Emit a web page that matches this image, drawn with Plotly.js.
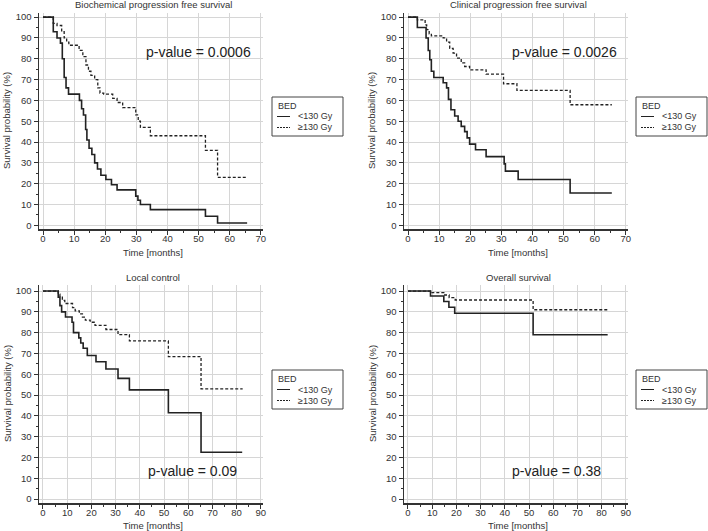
<!DOCTYPE html>
<html><head><meta charset="utf-8">
<script src="https://cdn.plot.ly/plotly-3.0.1.min.js"></script>
<style>html,body{margin:0;padding:0;background:#fff}#chart{width:708px;height:531px}</style>
</head><body><div id="chart"></div>
<script>
// ---- data ----
const panelTitles = ['Biochemical progression free survival', 'Clinical progression free survival', 'Local control', 'Overall survival'];
const pValueTexts = ['p-value = 0.0006', 'p-value = 0.0026', 'p-value = 0.09', 'p-value = 0.38'];
const legendTitle = 'BED';
const groupNames = ['<130 Gy', '≥130 Gy'];
const xAxisTitle = 'Time [months]';
const yAxisTitle = 'Survival probability (%)';
const xTicksTop = [0, 10, 20, 30, 40, 50, 60, 70];
const xTicksBottom = [0, 10, 20, 30, 40, 50, 60, 70, 80, 90];
const yTicks = [0, 10, 20, 30, 40, 50, 60, 70, 80, 90, 100];

// Biochemical PFS
const bpfsLowTime = [0, 3.3, 4.5, 5.6, 6.2, 6.8, 7.4, 8.2, 11.7, 12.4, 13.0, 13.7, 14.1, 14.8, 15.7, 16.6, 17.5, 18.6, 20.2, 22.0, 23.8, 29.8, 30.5, 31.3, 34.5, 52.2, 56.1, 65.6];
const bpfsLowSurv = [100, 93, 90, 87.5, 80, 71, 66, 63, 60, 56, 53, 46, 41, 37, 34, 30, 27, 24, 22, 19.5, 17, 14, 12, 10, 7.5, 4.3, 1.1, 1.1];
const bpfsHighTime = [0, 3.3, 4.5, 6.0, 6.8, 7.6, 8.3, 11.6, 12.8, 13.8, 14.6, 15.4, 16.6, 17.6, 18.3, 19.5, 22.4, 23.8, 25.6, 29.8, 30.6, 31.3, 34.5, 52.2, 56.1, 65.6];
const bpfsHighSurv = [100, 97, 96, 93, 90, 88, 86.5, 84, 81, 77, 74, 72, 70, 66, 63.5, 63, 61, 59, 56.5, 53, 50, 47, 43, 36, 23, 23];

// Clinical PFS
const cpfsLowTime = [0, 3.0, 5.8, 6.5, 7.0, 7.5, 8.3, 11.3, 12.4, 13.0, 13.8, 15.0, 16.1, 17.1, 18.2, 19.0, 19.8, 21.7, 25.1, 30.9, 31.3, 35.4, 52.1, 65.5];
const cpfsLowSurv = [100, 95, 90, 84, 79.5, 74, 71, 68.5, 66, 60.5, 55.5, 52.5, 50, 47.5, 45, 42, 39, 36.3, 33, 29.5, 26, 22, 15.5, 15.5];
const cpfsHighTime = [0, 3.0, 5.5, 6.0, 6.8, 7.5, 11.3, 12.4, 13.4, 14.5, 15.6, 17.1, 18.2, 19.8, 25.1, 30.7, 35.0, 52.1, 65.5];
const cpfsHighSurv = [100, 98.7, 96.3, 94, 92, 91, 90, 88, 85, 82.7, 80.3, 78, 76.3, 74.7, 72.6, 68, 64.8, 57.9, 57.9];

// Local control
const lcLowTime = [0, 6.3, 7.0, 7.7, 9.3, 12.0, 12.6, 14.8, 15.6, 16.6, 18.3, 21.9, 26.0, 31.0, 35.7, 51.8, 65.3, 82.3];
const lcLowSurv = [100, 97, 93, 90, 87.5, 85, 80, 77.5, 75, 72.5, 69, 66, 62.5, 58, 52.5, 41.5, 22.5, 22.5];
const lcHighTime = [0, 6.3, 7.0, 8.0, 9.0, 12.2, 13.3, 15.0, 16.3, 17.5, 19.5, 21.5, 26.0, 31.0, 35.7, 51.8, 65.3, 82.5];
const lcHighSurv = [100, 98.5, 97, 95.5, 94, 92, 90.5, 89, 87.5, 86, 85, 83.5, 81.5, 79, 76, 68.5, 53, 53];

// Overall survival
const osLowTime = [0, 9.3, 14.8, 16.9, 19.3, 51.7, 82.5];
const osLowSurv = [100, 97.6, 95, 92.2, 89.3, 79, 79];
const osHighTime = [0, 9.3, 14.8, 17.0, 19.5, 51.7, 82.5];
const osHighSurv = [100, 99.2, 98.1, 96.8, 95.7, 91, 91];

// ---- layout helpers ----
const W = 708, H = 531;
const px = v => v / W;
const py = v => 1 - v / H;

const panels = [
  {low: [bpfsLowTime, bpfsLowSurv], high: [bpfsHighTime, bpfsHighSurv], xl: 39, xr: 263, yt: 13, yb: 229, xr0: [-1.29, 70.7], yr: [-1.8, 102], ticks: xTicksTop, titleY: 5, xTitleY: 252, pv: [198.5, 52], leg: [272, 97]},
  {low: [cpfsLowTime, cpfsLowSurv], high: [cpfsHighTime, cpfsHighSurv], xl: 404, xr: 628, yt: 13, yb: 229, xr0: [-1.29, 70.7], yr: [-1.8, 102], ticks: xTicksTop, titleY: 5, xTitleY: 252, pv: [564, 52], leg: [636, 97]},
  {low: [lcLowTime, lcLowSurv], high: [lcHighTime, lcHighSurv], xl: 39, xr: 263, yt: 285, yb: 503, xr0: [-1.65, 90.9], yr: [-1.9, 102.9], ticks: xTicksBottom, titleY: 277, xTitleY: 525.5, pv: [192, 470.7], leg: [272, 370]},
  {low: [osLowTime, osLowSurv], high: [osHighTime, osHighSurv], xl: 404, xr: 628, yt: 285, yb: 503, xr0: [-1.65, 90.9], yr: [-1.9, 102.9], ticks: xTicksBottom, titleY: 277, xTitleY: 525.5, pv: [556, 470.7], leg: [636, 370]}
];

const FONT = 'Arial, "Liberation Sans", sans-serif';
const traces = [];
const layout = {
  width: W, height: H,
  margin: {l: 0, r: 0, t: 0, b: 0, autoexpand: false},
  paper_bgcolor: '#fff', plot_bgcolor: '#fff',
  showlegend: false,
  font: {family: FONT, size: 9.5, color: '#333'},
  annotations: [], shapes: []
};

panels.forEach((p, i) => {
  const n = i === 0 ? '' : String(i + 1);
  const xa = 'x' + n, ya = 'y' + n;
  traces.push({x: p.low[0], y: p.low[1], xaxis: xa, yaxis: ya, name: groupNames[0], type: 'scatter', mode: 'lines',
    line: {shape: 'hv', color: '#222', width: 1.6}, hoverinfo: 'skip'});
  traces.push({x: p.high[0], y: p.high[1], xaxis: xa, yaxis: ya, name: groupNames[1], type: 'scatter', mode: 'lines',
    line: {shape: 'hv', color: '#222', width: 1.3, dash: '3px,2px'}, hoverinfo: 'skip'});

  const axCommon = {
    showgrid: true, gridcolor: '#d6d6d6', gridwidth: 1,
    showline: true, linecolor: '#333', linewidth: 1.5,
    ticks: 'outside', ticklen: 4, tickwidth: 1, tickcolor: '#333',
    zeroline: false, tickfont: {family: FONT, size: 9.5, color: '#333'},
    fixedrange: true
  };
  layout['xaxis' + n] = Object.assign({}, axCommon, {
    domain: [px(p.xl), px(p.xr)], anchor: ya, range: p.xr0,
    tickmode: 'array', tickvals: p.ticks, ticktext: p.ticks.map(String),
    ticklabelstandoff: -4,
    minor: {dtick: 5, tick0: 0, ticks: 'outside', ticklen: 2, tickcolor: '#333', showgrid: false}
  });
  layout['yaxis' + n] = Object.assign({}, axCommon, {
    domain: [py(p.yb), py(p.yt)], anchor: xa, range: p.yr,
    tickmode: 'array', tickvals: yTicks, ticktext: yTicks.map(String),
    minor: {dtick: 5, tick0: 0, ticks: 'outside', ticklen: 2, tickcolor: '#333', showgrid: false}
  });

  const cx = (p.xl + p.xr) / 2;
  // panel title
  layout.annotations.push({text: panelTitles[i], xref: 'paper', yref: 'paper', x: px(cx + 2), y: py(p.titleY),
    xanchor: 'center', yanchor: 'middle', showarrow: false, font: {family: FONT, size: 9.5, color: '#333'}});
  // x-axis title
  layout.annotations.push({text: xAxisTitle, xref: 'paper', yref: 'paper', x: px(cx + 2), y: py(p.xTitleY),
    xanchor: 'center', yanchor: 'middle', showarrow: false, font: {family: FONT, size: 9.5, color: '#333'}});
  // y-axis title
  layout.annotations.push({text: yAxisTitle, xref: 'paper', yref: 'paper', x: px(p.xl - 32), y: py((p.yt + p.yb) / 2),
    xanchor: 'center', yanchor: 'middle', textangle: -90, showarrow: false, font: {family: FONT, size: 9.5, color: '#333'}});
  // p-value
  layout.annotations.push({text: pValueTexts[i], xref: 'paper', yref: 'paper', x: px(p.pv[0]), y: py(p.pv[1]),
    xanchor: 'center', yanchor: 'middle', showarrow: false, font: {family: FONT, size: 14, color: '#222'}});

  // legend box
  const lx = p.leg[0], ly = p.leg[1];
  layout.shapes.push({type: 'rect', xref: 'paper', yref: 'paper', x0: px(lx), x1: px(lx + 71), y0: py(ly), y1: py(ly + 39),
    line: {color: '#444', width: 1}, fillcolor: '#fff'});
  layout.shapes.push({type: 'line', xref: 'paper', yref: 'paper', x0: px(lx + 5), x1: px(lx + 18), y0: py(ly + 19.5), y1: py(ly + 19.5),
    line: {color: '#222', width: 1}});
  layout.shapes.push({type: 'line', xref: 'paper', yref: 'paper', x0: px(lx + 5), x1: px(lx + 18), y0: py(ly + 30.5), y1: py(ly + 30.5),
    line: {color: '#222', width: 1, dash: '2px,1px'}});
  layout.annotations.push({text: legendTitle, xref: 'paper', yref: 'paper', x: px(lx + 4), y: py(ly + 9),
    xanchor: 'left', yanchor: 'middle', showarrow: false, font: {family: FONT, size: 9, color: '#333'}});
  layout.annotations.push({text: groupNames[0].replace('<', '&lt;'), xref: 'paper', yref: 'paper', x: px(lx + 24), y: py(ly + 19.5),
    xanchor: 'left', yanchor: 'middle', showarrow: false, font: {family: FONT, size: 9, color: '#333'}});
  layout.annotations.push({text: groupNames[1], xref: 'paper', yref: 'paper', x: px(lx + 24), y: py(ly + 30.5),
    xanchor: 'left', yanchor: 'middle', showarrow: false, font: {family: FONT, size: 9, color: '#333'}});
});

Plotly.newPlot('chart', traces, layout, {staticPlot: true, displayModeBar: false});
</script>
</body></html>
